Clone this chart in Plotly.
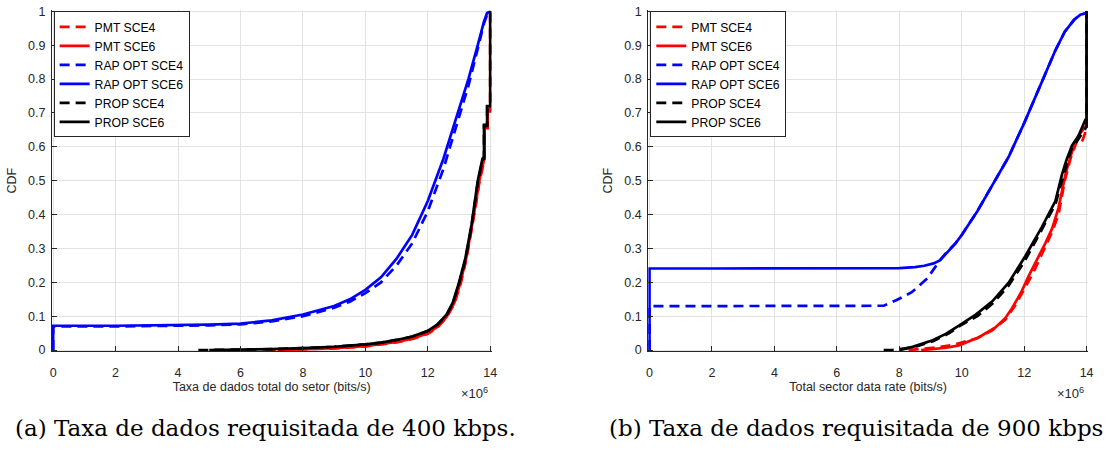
import plotly.graph_objects as go

# ---------------- data (x in units of 1e6 bits/s) ----------------
series_names = ["PMT SCE4", "PMT SCE6", "RAP OPT SCE4", "RAP OPT SCE6", "PROP SCE4", "PROP SCE6"]

# Panel (a): requested rate 400 kbps
a_pmt4_x = [6.8, 8, 9, 10, 10.5, 11, 11.5, 12, 12.3, 12.6, 12.85, 13.05, 13.25, 13.45, 13.55, 13.65, 13.78, 13.82, 13.82, 13.92, 13.92, 14, 14]
a_pmt4_y = [0, 0.002, 0.005, 0.011, 0.016, 0.023, 0.033, 0.048, 0.066, 0.096, 0.137, 0.195, 0.275, 0.375, 0.435, 0.495, 0.555, 0.565, 0.655, 0.655, 0.705, 0.705, 1.0]
a_pmt6_x = [7.2, 8, 9, 10, 10.5, 11, 11.5, 12, 12.3, 12.6, 12.85, 13.05, 13.25, 13.45, 13.55, 13.65, 13.78, 13.82, 13.82, 13.92, 13.92, 14, 14]
a_pmt6_y = [0, 0.002, 0.006, 0.012, 0.017, 0.024, 0.034, 0.05, 0.068, 0.098, 0.14, 0.2, 0.28, 0.38, 0.44, 0.5, 0.56, 0.57, 0.66, 0.66, 0.71, 0.71, 1.0]
a_rap4_x = [0, 0, 2, 4, 5, 6, 7, 8, 9, 9.5, 10, 10.5, 11, 11.5, 12, 12.5, 13, 13.3, 13.6, 13.8, 13.9, 14]
a_rap4_y = [0, 0.07, 0.07, 0.071, 0.073, 0.076, 0.085, 0.1, 0.125, 0.143, 0.168, 0.2, 0.25, 0.315, 0.41, 0.535, 0.685, 0.78, 0.89, 0.965, 0.99, 1.0]
a_rap6_x = [0, 0, 2, 4, 5, 6, 7, 8, 9, 9.5, 10, 10.5, 11, 11.5, 12, 12.5, 13, 13.3, 13.6, 13.8, 13.9, 14]
a_rap6_y = [0, 0.072, 0.072, 0.073, 0.075, 0.078, 0.088, 0.105, 0.13, 0.15, 0.178, 0.215, 0.27, 0.34, 0.44, 0.565, 0.71, 0.8, 0.9, 0.97, 0.995, 1.0]
a_prop4_x = [4.65, 6, 7, 8, 9, 10, 10.5, 11, 11.5, 12, 12.3, 12.6, 12.8, 13.0, 13.2, 13.4, 13.5, 13.6, 13.75, 13.8, 13.8, 13.9, 13.9, 14, 14]
a_prop4_y = [0, 0.001, 0.003, 0.006, 0.01, 0.017, 0.022, 0.03, 0.04, 0.056, 0.074, 0.103, 0.138, 0.196, 0.265, 0.365, 0.425, 0.495, 0.56, 0.565, 0.662, 0.662, 0.718, 0.718, 1.0]
a_prop6_x = [5.0, 6, 7, 8, 9, 10, 10.5, 11, 11.5, 12, 12.3, 12.6, 12.8, 13.0, 13.2, 13.4, 13.5, 13.6, 13.75, 13.8, 13.8, 13.9, 13.9, 14, 14]
a_prop6_y = [0, 0.001, 0.003, 0.006, 0.01, 0.017, 0.022, 0.03, 0.04, 0.057, 0.075, 0.105, 0.14, 0.2, 0.27, 0.37, 0.43, 0.5, 0.565, 0.57, 0.665, 0.665, 0.72, 0.72, 1.0]

# Panel (b): requested rate 900 kbps
b_pmt4_x = [8.3, 8.7, 9.2, 9.7, 10.0, 10.5, 11.0, 11.4, 11.7, 12.0, 12.3, 12.6, 12.9, 13.1, 13.3, 13.5, 13.7, 13.85, 13.95, 14, 14]
b_pmt4_y = [0, 0.003, 0.008, 0.015, 0.022, 0.035, 0.06, 0.09, 0.13, 0.18, 0.23, 0.29, 0.35, 0.4, 0.5, 0.57, 0.62, 0.615, 0.64, 0.64, 1.0]
b_pmt6_x = [8.7, 9.0, 9.5, 9.91, 10.2, 10.55, 11.08, 11.4, 11.62, 11.9, 12.15, 12.4, 12.68, 12.9, 13.1, 13.32, 13.53, 13.74, 13.96, 14, 14]
b_pmt6_y = [0, 0.002, 0.007, 0.014, 0.024, 0.038, 0.067, 0.095, 0.125, 0.17, 0.22, 0.265, 0.316, 0.36, 0.42, 0.518, 0.585, 0.633, 0.66, 0.66, 1.0]
b_rap4_x = [0, 0, 2, 4, 6, 7, 7.5, 7.9, 8.4, 8.9, 9.3, 9.5, 9.8, 10, 10.5, 11, 11.5, 12, 12.5, 13, 13.3, 13.6, 13.8, 13.95, 14, 14]
b_rap4_y = [0, 0.13, 0.13, 0.13, 0.13, 0.13, 0.131, 0.147, 0.171, 0.212, 0.265, 0.287, 0.315, 0.34, 0.41, 0.49, 0.57, 0.67, 0.78, 0.885, 0.94, 0.975, 0.99, 0.995, 0.995, 1.0]
b_rap6_x = [0, 0, 2, 4, 6, 8, 8.5, 8.8, 9.1, 9.3, 9.5, 9.8, 10, 10.5, 11, 11.5, 12, 12.5, 13, 13.3, 13.6, 13.8, 13.95, 14, 14]
b_rap6_y = [0, 0.241, 0.241, 0.241, 0.241, 0.242, 0.245, 0.249, 0.256, 0.265, 0.285, 0.315, 0.34, 0.41, 0.49, 0.57, 0.67, 0.78, 0.885, 0.94, 0.975, 0.99, 0.995, 0.995, 1.0]
b_prop4_x = [7.5, 7.8, 8.2, 8.6, 9.1, 9.6, 10.0, 10.5, 11.0, 11.5, 12.0, 12.5, 13.0, 13.15, 13.3, 13.5, 13.75, 13.95, 14, 14]
b_prop4_y = [0, 0.001, 0.005, 0.012, 0.027, 0.05, 0.075, 0.1, 0.138, 0.19, 0.26, 0.345, 0.43, 0.48, 0.53, 0.59, 0.625, 0.655, 0.66, 1.0]
b_prop6_x = [8.0, 8.43, 9.07, 9.49, 9.91, 10.2, 10.45, 10.98, 11.51, 12.04, 12.57, 13.0, 13.1, 13.21, 13.35, 13.53, 13.74, 13.96, 14, 14]
b_prop6_y = [0, 0.0095, 0.029, 0.048, 0.072, 0.09, 0.105, 0.144, 0.2, 0.278, 0.364, 0.44, 0.48, 0.518, 0.56, 0.604, 0.633, 0.68, 0.68, 1.0]

x_ticks = [0, 2, 4, 6, 8, 10, 12, 14]
y_ticks = [0, 0.1, 0.2, 0.3, 0.4, 0.5, 0.6, 0.7, 0.8, 0.9, 1]

panel_a = [(a_pmt4_x, a_pmt4_y), (a_pmt6_x, a_pmt6_y), (a_rap4_x, a_rap4_y),
           (a_rap6_x, a_rap6_y), (a_prop4_x, a_prop4_y), (a_prop6_x, a_prop6_y)]
panel_b = [(b_pmt4_x, b_pmt4_y), (b_pmt6_x, b_pmt6_y), (b_rap4_x, b_rap4_y),
           (b_rap6_x, b_rap6_y), (b_prop4_x, b_prop4_y), (b_prop6_x, b_prop6_y)]

x_title_a = "Taxa de dados total do setor (bits/s)"
x_title_b = "Total sector data rate (bits/s)"
caption_a = "(a) Taxa de dados requisitada de 400 kbps."
caption_b = "(b) Taxa de dados requisitada de 900 kbps"

# ---------------- styling ----------------
colors = ["#ff0000", "#ff0000", "#0000ff", "#0000ff", "#000000", "#000000"]
dashes = ["10px,6px", "solid", "10px,6px", "solid", "10px,6px", "solid"]

W, H = 1109, 452
AX = "#262626"
GRID = "#e3e3e3"
SANS = "Liberation Sans"

fig = go.Figure()
for panel, xa, ya, leg in [(panel_a, "x", "y", "legend"), (panel_b, "x2", "y2", "legend2")]:
    for (xs, ys), name, c, d in zip(panel, series_names, colors, dashes):
        fig.add_trace(go.Scatter(x=xs, y=ys, mode="lines", name=name,
                                 line=dict(color=c, width=2.7, dash=d),
                                 xaxis=xa, yaxis=ya, legend=leg))

px_per_x = 31.45
px_per_y = 348.0
xpad, ypad = 0.04, 0.003


def xdom(x0px):
    x14 = x0px + 14 * px_per_x
    return [(x0px - xpad * px_per_x) / W, (x14 + xpad * px_per_x) / W]


y0px, y1px = 353.5, 5.5
ydom = [(H - y0px - ypad * px_per_y) / H, (H - y1px + ypad * px_per_y) / H]

tick_font = dict(family=SANS, size=12.5, color=AX)
common_x = dict(range=[-xpad, 14 + xpad], tickvals=x_ticks, showgrid=True, gridcolor=GRID,
                zeroline=False, showline=True, linecolor=AX, linewidth=1, ticks="inside",
                ticklen=5, tickcolor=AX, tickfont=tick_font,
                ticklabelstandoff=10, ticklabeloverflow="allow")
common_y = dict(range=[-ypad, 1 + ypad], tickvals=y_ticks, showgrid=True, gridcolor=GRID,
                zeroline=False, showline=True, linecolor=AX, linewidth=1, ticks="inside",
                ticklen=5, tickcolor=AX, tickfont=tick_font,
                ticklabelstandoff=3, ticklabeloverflow="allow")

legend_common = dict(xanchor="left", yanchor="top", bgcolor="white", bordercolor="#262626",
                     borderwidth=1, font=dict(family=SANS, size=12.2, color="black"),
                     tracegroupgap=0, itemwidth=30)

fig.update_layout(
    width=W, height=H, margin=dict(l=0, r=0, t=0, b=0),
    paper_bgcolor="white", plot_bgcolor="white", showlegend=True,
    xaxis=dict(domain=xdom(51.5), anchor="y",
               title=dict(text=x_title_a, font=dict(family=SANS, size=12.5, color=AX), standoff=3),
               **common_x),
    yaxis=dict(domain=ydom, anchor="x",
               title=dict(text="CDF", font=dict(family=SANS, size=12.5, color=AX), standoff=8),
               **common_y),
    xaxis2=dict(domain=xdom(652.2), anchor="y2",
                title=dict(text=x_title_b, font=dict(family=SANS, size=12.5, color=AX), standoff=3),
                **common_x),
    yaxis2=dict(domain=ydom, anchor="x2",
                title=dict(text="CDF", font=dict(family=SANS, size=12.5, color=AX), standoff=8),
                **common_y),
    legend=dict(x=52 / W, y=(H - 5.5) / H, **legend_common),
    legend2=dict(x=653 / W, y=(H - 5.5) / H, **legend_common),
)

annotations = [
    dict(text="×10<sup>6</sup>", x=492 / W, y=(H - 398) / H, xref="paper", yref="paper",
         xanchor="right", yanchor="middle", showarrow=False,
         font=dict(family=SANS, size=13, color=AX)),
    dict(text="×10<sup>6</sup>", x=1091.5 / W, y=(H - 398) / H, xref="paper", yref="paper",
         xanchor="right", yanchor="middle", showarrow=False,
         font=dict(family=SANS, size=13, color=AX)),
    dict(text=caption_a, x=11 / W, y=(H - 434) / H, xref="paper", yref="paper",
         xanchor="left", yanchor="middle", showarrow=False,
         font=dict(family="DejaVu Serif", size=23, color="black")),
    dict(text=caption_b, x=609 / W, y=(H - 434) / H, xref="paper", yref="paper",
         xanchor="left", yanchor="middle", showarrow=False,
         font=dict(family="DejaVu Serif", size=23, color="black")),
]
fig.update_layout(annotations=annotations)

fig.write_html("out.html")
